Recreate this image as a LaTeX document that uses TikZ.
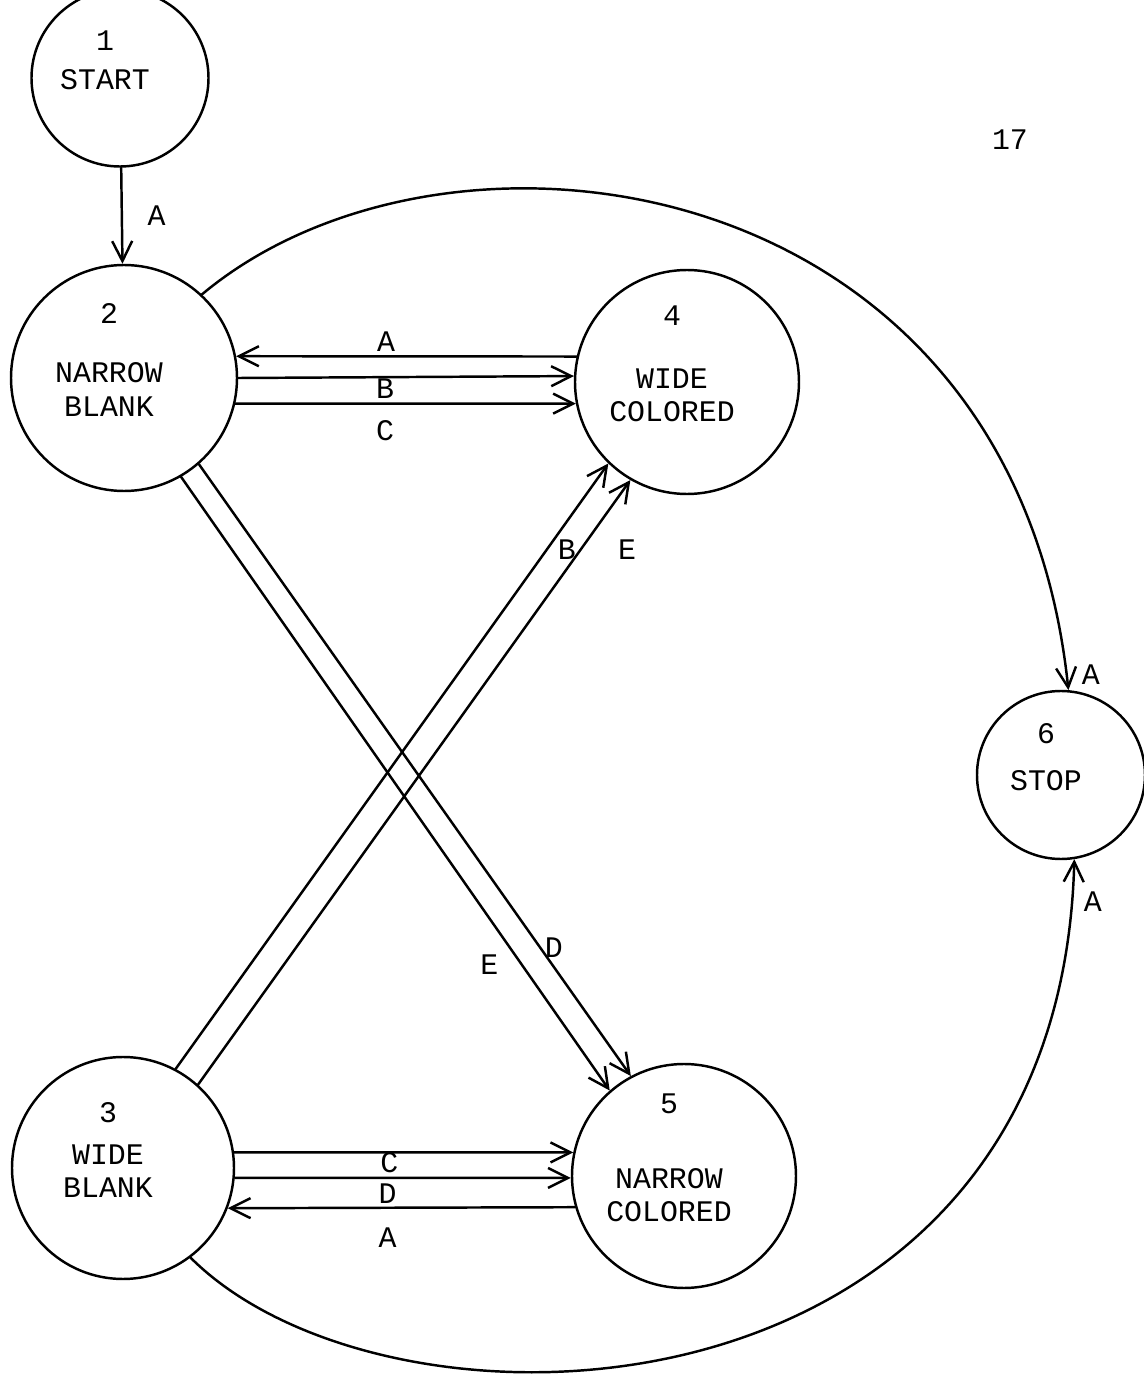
\documentclass[tikz,border=0pt]{standalone}
\usepackage{fontspec}
\setmainfont{Liberation Mono}
\usetikzlibrary{arrows.meta}

\begin{document}
\begin{tikzpicture}[font=\fontsize{8.5}{9.4}\selectfont, line width=.7pt, line join=round, line cap=round,
  >={Straight Barb[length=2mm,width=2mm]},
  stnode/.style={circle, draw, inner sep=0pt, minimum size=#1},
  stext/.style={align=center, xshift=-1.5mm, yshift=1.8mm},
  lbl/.style={inner sep=1pt}]
\useasboundingbox (0,0) rectangle (11.44,13.87);
\clip (0,0) rectangle (11.44,13.87);
% states
\node[stnode=1.77cm, label={[stext]center:{1\\[1.7pt]START}}] (n1) at (1.20,13.09) {};
\node[stnode=2.26cm, label={[stext]center:{2\\[7.4pt]NARROW\\BLANK}}] (n2) at (1.24,10.09) {};
\node[stnode=2.22cm, label={[stext]center:{3\\[2.8pt]WIDE\\BLANK}}] (n3) at (1.23,2.19) {};
\node[stnode=2.24cm, label={[stext]center:{4\\[8.5pt]WIDE\\COLORED}}] (n4) at (6.87,10.05) {};
\node[stnode=2.24cm, label={[stext]center:{5\\[11.9pt]NARROW\\COLORED}}] (n5) at (6.84,2.11) {};
\node[stnode=1.68cm, label={[stext]center:{6\\[4pt]STOP}}] (n6) at (10.61,6.12) {};
\node (pg) at (10.10,12.47) {17};
% transitions
\draw[->] (n1) -- (n2) node[lbl, pos=.5, right=6pt]{A};
\draw[<-] (n2.11) -- (n4.167) node[lbl, pos=.44, above]{A};
\draw[->] (n2.0) -- (n4.177);
\draw[->] (n2.-13) -- (n4.191) node[lbl, pos=.44, above]{B} node[pos=.44, below=1pt]{C};
\draw[->] (n3.8) -- (n5.168);
\draw[->] (n3.-5) -- (n5.181) node[lbl, pos=.46, above]{C};
\draw[<-] (n3.-21) -- (n5.196) node[lbl, pos=.46, above]{D} node[pos=.46, below=2pt]{A};
\draw[->] (n2.-60) -- (n5.131) node[pos=.795, left=3pt]{E};
\draw[->] (n2.-49) -- (n5.118) node[lbl, pos=.79, right]{D};
\draw[->] (n3.62) -- (n4.226);
\draw[->] (n3.48) -- (n4.240) node[lbl, pos=.885, left]{B} node[pos=.885, right=7pt]{E};
\draw[->] (n2.47) .. controls +(40:3.2) and +(96:5.3) .. (n6.85) node[lbl, pos=.99, right=3pt]{A};
\draw[->] (n3.-53) .. controls +(-45:2.85) and +(-91.5:5.75) .. (n6.-81) node[lbl, pos=.975, right=2pt]{A};
\end{tikzpicture}
\end{document}
